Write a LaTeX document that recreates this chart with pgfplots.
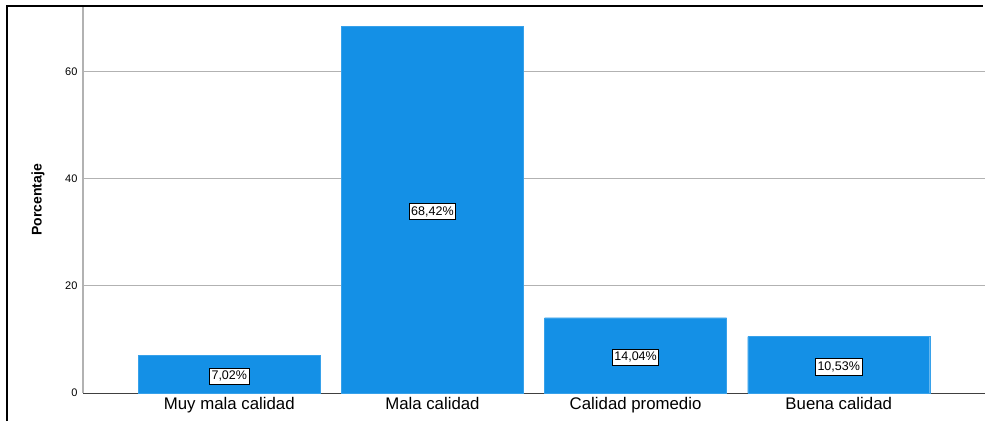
\documentclass[border=0pt]{standalone}
\usepackage{fontspec}
\setmainfont{Liberation Sans}
\usepackage{pgfplots}
\usepackage{pgfplotstable}
\pgfplotsset{compat=1.18}
\definecolor{barblue}{RGB}{20,144,230}

% x position, percentage, half height for the value box
\pgfplotstableread{
x  val    mid
0  7.02   3.51
1  68.42  34.21
2  14.04  7.02
3  10.53  5.265
}\calidad

\begin{document}
\begin{tikzpicture}[x=1pt,y=1pt]
\useasboundingbox (0,0) rectangle (987,421);
\draw[line width=2pt] (7,0) -- (7,415) -- (983,415);
\begin{axis}[
  at={(83pt,28pt)}, anchor=south west,
  scale only axis, width=902pt, height=386pt,
  xmin=-0.72, xmax=3.72, ymin=0, ymax=72,
  axis x line*=bottom, axis y line*=left,
  x axis line style={draw=black!75, line width=0.9pt, -},
  y axis line style={draw=black!30, line width=1.2pt, -},
  xtick={0,1,2,3},
  xticklabels={Muy mala calidad, Mala calidad, Calidad promedio, Buena calidad},
  ytick={0,20,40,60},
  major tick length=0pt,
  ymajorgrids, grid style={draw=black!30, line width=0.8pt},
  xticklabel style={font=\fontsize{16.8}{18}\selectfont, yshift=-1pt},
  yticklabel style={font=\fontsize{11}{13}\selectfont, xshift=-2pt},
  /pgf/number format/assume math mode=true,
  ylabel={\textbf{Porcentaje}},
  every axis y label/.style={at={(axis description cs:0,0.5)}, rotate=90, anchor=center,
    yshift=45pt, font=\fontsize{14}{16}\selectfont},
  clip=false,
]
\addplot[ybar, bar width=182pt, fill=barblue, draw=barblue!85!white] table[x=x, y=val] {\calidad};
\addplot[draw=none, mark=none,
  point meta=\thisrow{val},
  nodes near coords={\pgfmathprintnumber[fixed, fixed zerofill, precision=2, use comma]{\pgfplotspointmeta}\%},
  every node near coord/.append style={anchor=center, fill=white, draw=black, line width=0.6pt,
    inner xsep=2pt, inner ysep=3pt, yshift=-2pt, font=\fontsize{12.5}{14}\selectfont}
] table[x=x, y=mid] {\calidad};
\end{axis}
\end{tikzpicture}
\end{document}
